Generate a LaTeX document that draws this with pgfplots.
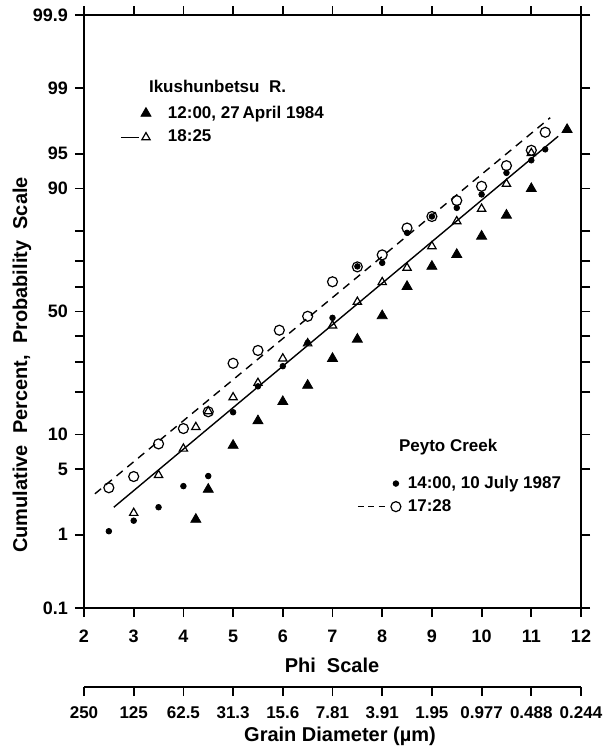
\documentclass[border=0pt]{standalone}
\usepackage{fontspec}
\setmainfont{Liberation Sans}
\usepackage{pgfplots}
\pgfplotsset{compat=1.18}
\begin{document}
\begin{tikzpicture}
\useasboundingbox (-42pt,-71pt) rectangle (259.5pt,304pt);
\pgfplotsset{
 common/.style={scale only axis, width=248.5pt, height=296.5pt, at={(0pt,0pt)}, anchor=south west,
   xmin=2, xmax=12, ymin=-3.0902, ymax=3.0902, clip=false,
   /pgf/number format/assume math mode=true},
 lgfont/.style={font=\fontsize{8.5}{10}\selectfont\bfseries},
}
% ---------------- main axis: Ikushunbetsu R. ----------------
\begin{axis}[common,
 xtick={2,3,4,5,6,7,8,9,10,11,12},
 xticklabels={2,3,4,5,6,7,8,9,10,11,12},
 ytick={-3.0902,-2.3263,-1.6449,-1.2816,-0.8416,-0.5244,-0.2533,0,0.2533,0.5244,0.8416,1.2816,1.6449,2.3263,3.0902},
 yticklabels={0.1,1,5,10,,,,50,,,,90,95,99,99.9},
 tick align=outside, tick pos=both, major tick length=4.5pt,
 axis line style={line width=1pt},
 every tick/.append style={line width=0.9pt, black},
 tick label style={font=\fontsize{9}{10}\selectfont\bfseries},
 xticklabel style={yshift=-3pt},
 legend style={at={(0.0724,0.855)}, anchor=north west, draw=none, fill=none, inner sep=0pt,
   row sep=0pt, lgfont},
 legend cell align=left,
]
\addlegendimage{only marks, mark=triangle*, mark size=2.9pt, black,
  legend image code/.code={\path[draw=none, fill=none] (0pt,-6pt) rectangle (21.5pt,6pt);
     \draw plot coordinates {(12.5pt,0pt)};}}
\addlegendentry{12:00, 27\,April 1984}
\addlegendimage{black, mark=triangle, mark size=2.4pt, line width=0.6pt,
  legend image code/.code={\path[draw=none, fill=none] (0pt,-6pt) rectangle (21.5pt,6pt);
     \draw (0pt,0pt) -- (9pt,0pt);
     \draw plot coordinates {(12.5pt,0pt)};}}
\addlegendentry{18:25}
% fitted line for 18:25
\addplot[black, line width=0.7pt, forget plot] coordinates {(2.60,-2.04) (11.54,1.826)};
% 12:00, 27 April 1984 (filled triangles)
\addplot[only marks, mark=triangle*, mark size=2.9pt, black, forget plot] coordinates {
(4.25,-2.167) (4.5,-1.854) (5.0,-1.396) (5.5,-1.14) (6.0,-0.94) (6.5,-0.77)
(7.0,-0.49) (7.5,-0.29) (8.0,-0.045) (8.5,0.26) (9.0,0.47) (9.5,0.594)
(10.0,0.784) (10.5,1.003) (11.0,1.28) (11.72,1.896)};
% 18:25 (open triangles)
\addplot[only marks, mark=triangle, mark size=2.4pt, line width=0.6pt, black, forget plot] coordinates {
(3.0,-2.10) (3.5,-1.705) (4.0,-1.43) (4.25,-1.205) (4.5,-1.04) (5.0,-0.895)
(5.5,-0.745) (6.0,-0.49) (6.5,-0.333) (7.0,-0.146) (7.5,0.10) (8.0,0.305)
(8.5,0.455) (9.0,0.68) (9.5,0.94) (10.0,1.07) (10.5,1.33) (11.0,1.65)};
\end{axis}
% ---------------- overlay axis: Peyto Creek ----------------
\begin{axis}[common, hide axis,
 legend style={at={(0.5493,0.2302)}, anchor=north west, draw=none, fill=none, inner sep=0pt,
   row sep=0pt, lgfont},
 legend cell align=left,
]
\addlegendimage{only marks, mark=*, mark size=1.4pt, black,
  legend image code/.code={\path[draw=none, fill=none] (0pt,-5.25pt) rectangle (23pt,5.25pt);
     \draw plot coordinates {(19pt,0pt)};}}
\addlegendentry{14:00, 10 July 1987}
\addlegendimage{black, mark=o, mark size=2.5pt, line width=0.6pt,
  legend image code/.code={\path[draw=none, fill=none] (0pt,-5.25pt) rectangle (23pt,5.25pt);
     \draw[line width=0.5pt, dash pattern=on 3pt off 2.2pt] (0pt,0pt) -- (15.5pt,0pt);
     \draw[solid] plot coordinates {(19pt,0pt)};}}
\addlegendentry{17:28}
% fitted line for 17:28
\addplot[black, line width=0.7pt, dash pattern=on 4pt off 3pt, forget plot] coordinates {(2.22,-1.90) (11.38,2.02)};
% 14:00, 10 July 1987 (filled circles)
\addplot[only marks, mark=*, mark size=1.4pt, black, forget plot] coordinates {
(2.5,-2.29) (3.0,-2.18) (3.5,-2.04) (4.0,-1.82) (4.5,-1.715) (5.0,-1.05)
(5.5,-0.78) (6.0,-0.57) (6.5,-0.326) (7.0,-0.066) (7.5,0.47) (8.0,0.507)
(8.5,0.82) (9.0,0.99) (9.5,1.08) (10.0,1.22) (10.5,1.445) (11.0,1.576) (11.28,1.69)};
% 17:28 (open circles)
\addplot[only marks, mark=o, mark size=2.5pt, line width=0.6pt, black, forget plot] coordinates {
(2.5,-1.837) (3.0,-1.72) (3.5,-1.38) (4.0,-1.22) (4.5,-1.045) (5.0,-0.54)
(5.5,-0.406) (5.93,-0.195) (6.5,-0.05) (7.0,0.31) (7.5,0.465) (8.0,0.59)
(8.5,0.87) (9.0,0.99) (9.5,1.156) (10.0,1.305) (10.5,1.52) (11.0,1.68) (11.28,1.868)};
\end{axis}
% ---------------- grain diameter scale ----------------
\begin{axis}[scale only axis, width=248.5pt, height=10pt, at={(0pt,-39.5pt)}, anchor=south west,
 xmin=2, xmax=12, ymin=0, ymax=1,
 axis x line=bottom, axis y line=none,
 x axis line style={-, line width=1pt},
 tick align=outside, major tick length=4.5pt,
 every tick/.append style={line width=0.9pt, black},
 xtick={2,3,4,5,6,7,8,9,10,11,12},
 xticklabels={250,125,62.5,31.3,15.6,7.81,3.91,1.95,0.977,0.488,0.244},
 tick label style={font=\fontsize{8.5}{10}\selectfont\bfseries},
 xticklabel style={yshift=-2pt},
 /pgf/number format/assume math mode=true,
]
\addplot[draw=none, forget plot] coordinates {(2,0) (12,1)};
\end{axis}
% ---------------- titles and axis labels ----------------
\node[anchor=west, font=\fontsize{8.5}{10}\selectfont\bfseries] at (29pt,261pt) {Ikushunbetsu\ \ R.};
\node[anchor=west, font=\fontsize{8.5}{10}\selectfont\bfseries] at (154pt,80.5pt) {Peyto Creek};
\node[font=\fontsize{10}{12}\selectfont\bfseries] at (124pt,-28.5pt) {Phi\ \ Scale};
\node[font=\fontsize{10}{12}\selectfont\bfseries] at (128pt,-64pt) {Grain Diameter (µm)};
\node[rotate=90, font=\fontsize{10}{12}\selectfont\bfseries] at (-31pt,121.5pt) {Cumulative\ \ Percent,\ \ Probability\ \ Scale};
\end{tikzpicture}
\end{document}
